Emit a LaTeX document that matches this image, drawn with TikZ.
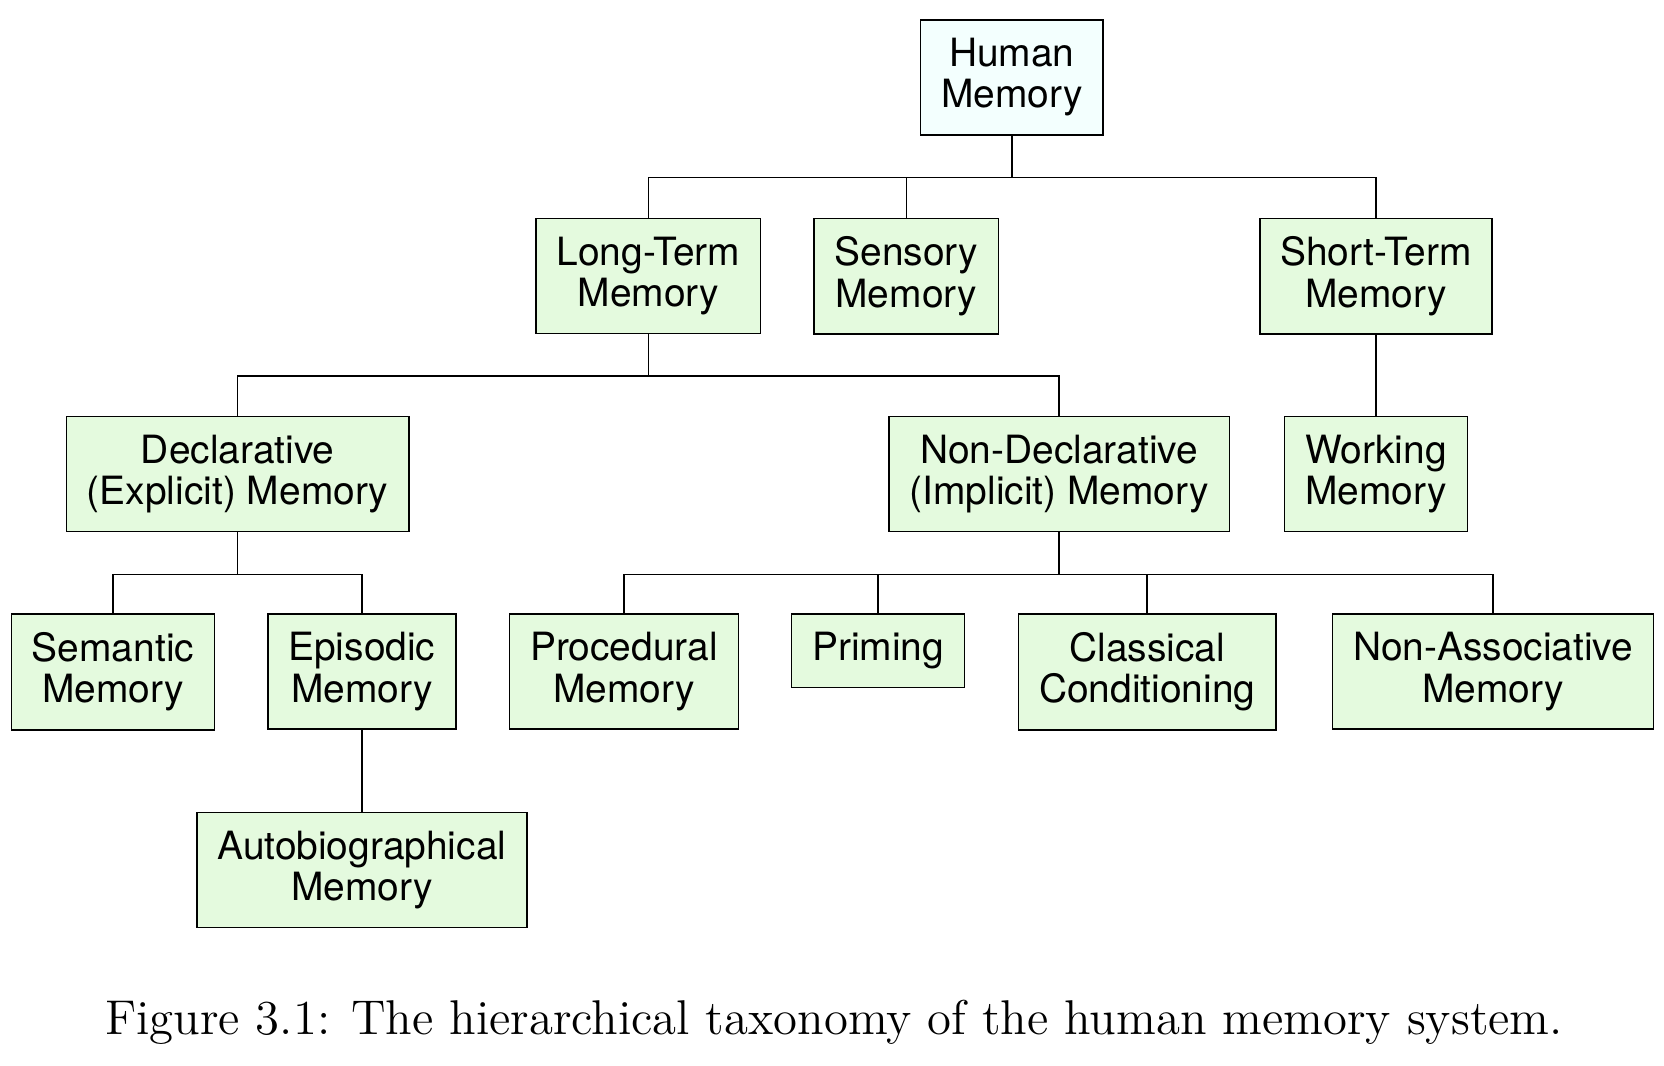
\documentclass[tikz,border=0pt]{standalone}
\usepackage{fontspec}
\newfontfamily\boxfont{TeX Gyre Heros}
\usetikzlibrary{positioning}
\definecolor{leafgreen}{RGB}{228,250,222}
\definecolor{rootcyan}{RGB}{243,255,254}
\tikzset{%
   box/.style={draw=black, fill=leafgreen, line width=0.4pt, align=center, anchor=north,
     inner xsep=5.8pt, inner ysep=5.2pt, font=\boxfont\fontsize{11}{11.7}\selectfont},
   root/.style={box, fill=rootcyan},
   branch/.style={line width=0.4pt,
     to path={(\tikztostart) -- ++(0pt,-11.85pt) -| (\tikztotarget)}},
}
\begin{document}
\begin{tikzpicture}[x=0.3pt, y=-0.3pt]
      \useasboundingbox (0,0) rectangle (1568,1004);
      \node[root] (hm) at (953.5,18) {Human\\Memory};
      \node[box] (lt) at (611,205) {Long-Term\\Memory};
      \node[box] (sen) at (854,205) {Sensory\\Memory};
      \node[box] (st) at (1296.5,205) {Short-Term\\Memory};
      \node[box] (decl) at (224,392) {Declarative\\(Explicit) Memory};
      \node[box] (ndecl) at (998,392) {Non-Declarative\\(Implicit) Memory};
      \node[box] (work) at (1296.5,392) {Working\\Memory};
      \node[box] (sem) at (106.5,578) {Semantic\\Memory};
      \node[box] (epi) at (341,578) {Episodic\\Memory};
      \node[box] (proc) at (588,578) {Procedural\\Memory};
      \node[box] (prim) at (827.5,578) {Priming};
      \node[box] (cls) at (1081,578) {Classical\\Conditioning};
      \node[box] (nass) at (1407,578) {Non-Associative\\Memory};
      \node[box] (auto) at (341,765) {Autobiographical\\Memory};
      \foreach \a/\b in {hm/lt, hm/sen, hm/st, lt/decl, lt/ndecl, st/work,
                         decl/sem, decl/epi, ndecl/proc, ndecl/prim, ndecl/cls, ndecl/nass, epi/auto}
         \draw[branch] (\a.south) to (\b.north);
      \node[anchor=base, font=\fontsize{13.8}{16}\selectfont] (cap) at (786,975)
         {Figure 3.1: The hierarchical taxonomy of the human memory system.};
\end{tikzpicture}
\end{document}
